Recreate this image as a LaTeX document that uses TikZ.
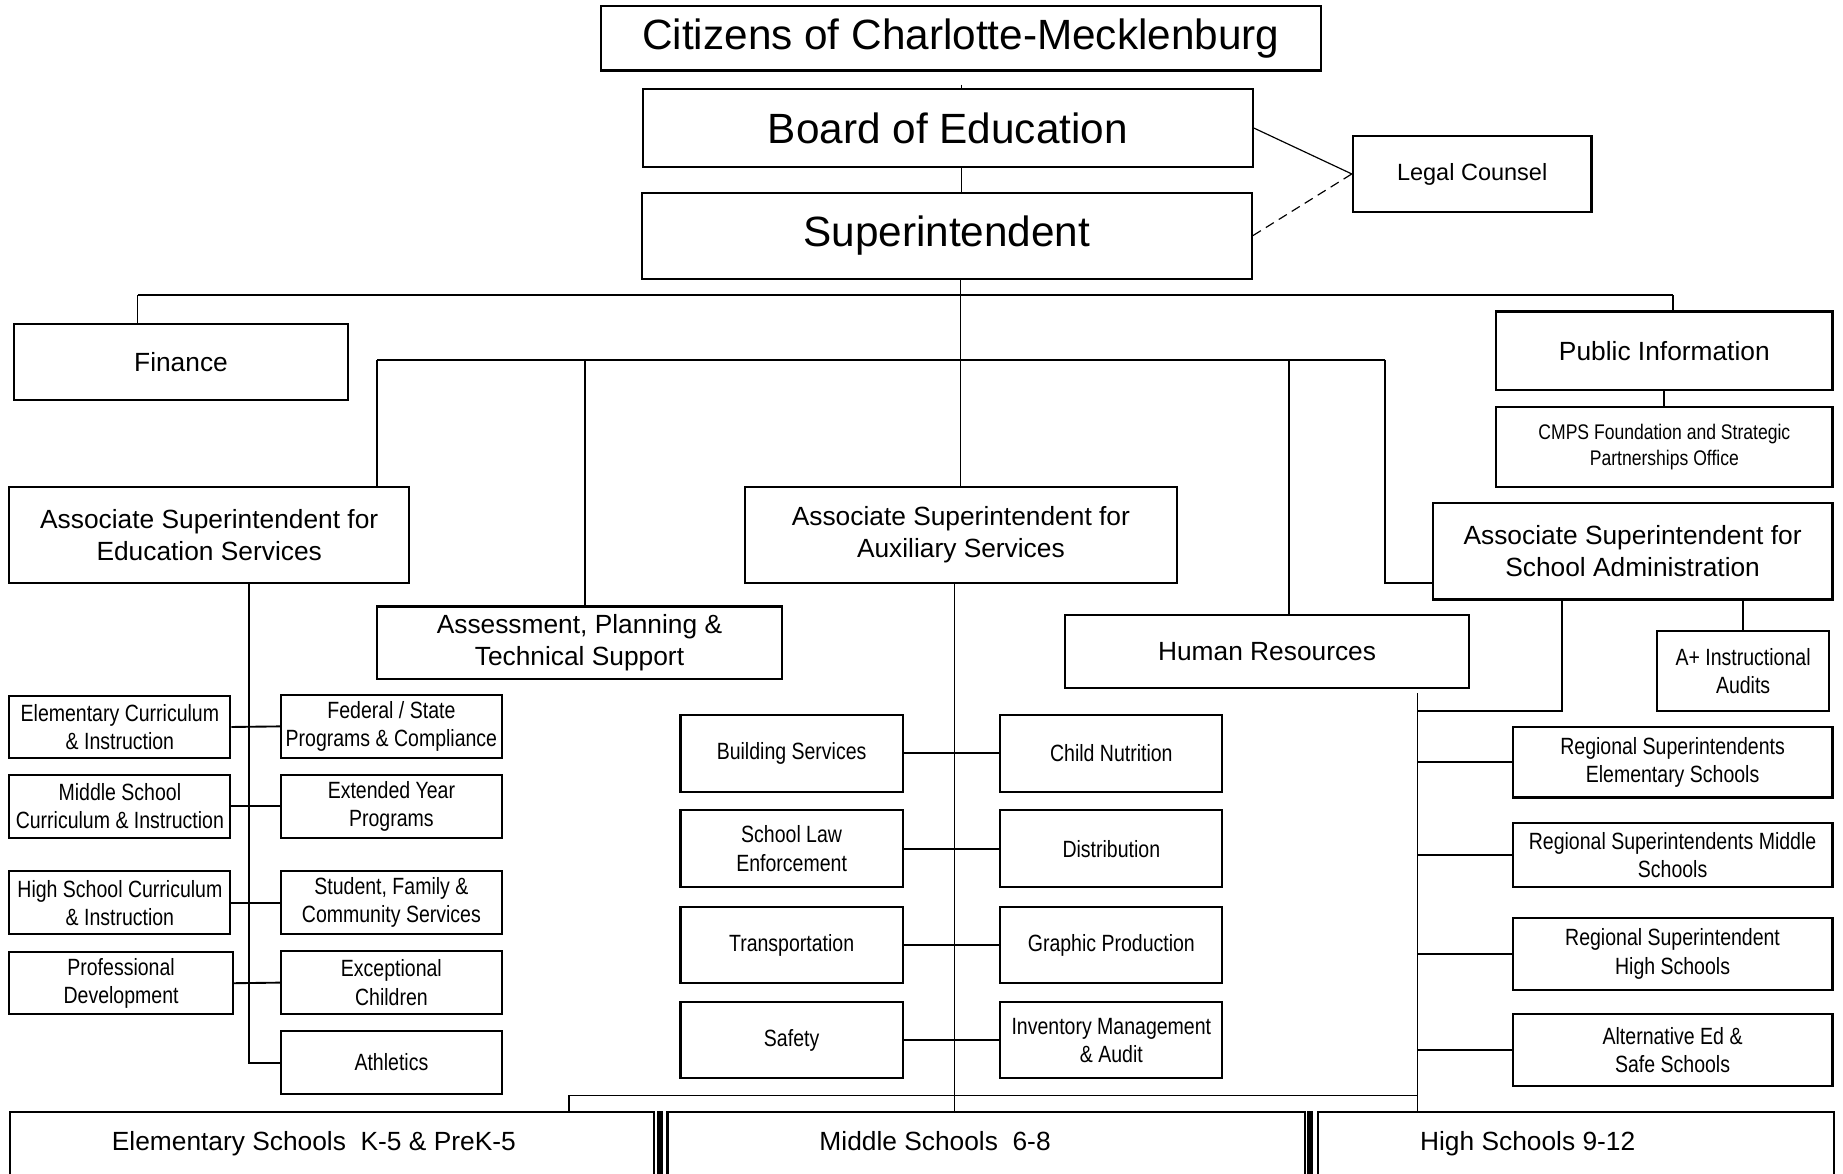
\documentclass[tikz,border=0pt]{standalone}
\usepackage{fontspec}
\setmainfont{Liberation Sans}
\newfontfamily\narrowfont[FakeStretch=0.83]{Liberation Sans}
\begin{document}
\begin{tikzpicture}[x=1pt,y=-1pt,
  bx/.style={draw, line width=1.8pt, inner sep=0pt, align=center},
  big/.style={font=\fontsize{36}{43}\selectfont},
  mid/.style={font=\fontsize{22.4}{27}\selectfont},
  nar/.style={font=\narrowfont\fontsize{20}{24}\selectfont},
  ln/.style={line width=1.6pt},
  thinln/.style={line width=1pt},
  sepbar/.style={fill=black, draw=none}]
\useasboundingbox (0,0) rectangle (1568,998);
\clip (0,0) rectangle (1568,998);
% top
\node[bx,big,minimum width=613pt,minimum height=55pt] (cit) at (817.5,32.5) {Citizens of Charlotte-Mecklenburg};
\node[bx,big,minimum width=519pt,minimum height=66pt] (board) at (806.5,109) {Board of Education};
\node[bx,big,minimum width=519pt,minimum height=73pt] (sup) at (805.5,200.5) {Superintendent};
\node[bx,font=\fontsize{20}{24}\selectfont,minimum width=203pt,minimum height=64pt] (legal) at (1252.5,148) {Legal Counsel};
% second tier
\node[bx,mid,minimum width=284pt,minimum height=64pt] (fin) at (154,308) {Finance};
\node[bx,mid,minimum width=286pt,minimum height=67pt] (pub) at (1416,298.5) {Public Information};
\node[bx,font=\narrowfont\fontsize{18}{22}\selectfont,minimum width=286pt,minimum height=68pt] (cmps) at (1416,380) {CMPS Foundation and Strategic\\Partnerships Office};
\node[bx,mid,minimum width=340pt,minimum height=82pt] (edu) at (178,455) {Associate Superintendent for\\Education Services};
\node[bx,mid,minimum width=367pt,minimum height=82pt] (aux) at (817.5,455) {Associate Superintendent for\\Auxiliary Services};
\node[bx,mid,minimum width=340pt,minimum height=82pt] (sadm) at (1389,469) {Associate Superintendent for\\School Administration};
\node[bx,mid,minimum width=344pt,minimum height=62pt] (assess) at (493,547) {Assessment, Planning \&\\Technical Support};
\node[bx,mid,minimum width=344pt,minimum height=62pt] (hr) at (1078,554) {Human Resources};
\node[bx,nar,minimum width=146pt,minimum height=68pt] (aplus) at (1483,571) {A+ Instructional\\Audits};
% education column
\node[bx,nar,minimum width=188pt,minimum height=53pt] (elem) at (102,618.5) {Elementary Curriculum\\\& Instruction};
\node[bx,nar,minimum width=188pt,minimum height=54pt] (msci) at (102,686) {Middle School\\Curriculum \& Instruction};
\node[bx,nar,minimum width=188pt,minimum height=54pt] (hsci) at (102,768) {High School Curriculum\\\& Instruction};
\node[bx,nar,minimum width=190pt,minimum height=53pt] (prof) at (103,836.5) {Professional\\Development};
\node[bx,nar,minimum width=188pt,minimum height=54pt] (fed) at (333,618) {Federal / State\\Programs \& Compliance};
\node[bx,nar,minimum width=188pt,minimum height=54pt] (ext) at (333,686) {Extended Year\\Programs};
\node[bx,nar,minimum width=188pt,minimum height=54pt] (stud) at (333,768) {Student, Family \&\\Community Services};
\node[bx,nar,minimum width=188pt,minimum height=54pt] (exc) at (333,836) {Exceptional\\Children};
\node[bx,nar,minimum width=188pt,minimum height=54pt] (ath) at (333,904) {Athletics};
% auxiliary column
\node[bx,nar,minimum width=189pt,minimum height=66pt] (bld) at (673.5,641) {Building Services};
\node[bx,nar,minimum width=189pt,minimum height=65pt] (law) at (673.5,722) {School Law\\Enforcement};
\node[bx,nar,minimum width=189pt,minimum height=65pt] (trans) at (673.5,804) {Transportation};
\node[bx,nar,minimum width=189pt,minimum height=65pt] (safe) at (673.5,885) {Safety};
\node[bx,nar,minimum width=189pt,minimum height=66pt] (cn) at (945.5,641) {Child Nutrition};
\node[bx,nar,minimum width=189pt,minimum height=65pt] (dist) at (945.5,722) {Distribution};
\node[bx,nar,minimum width=189pt,minimum height=65pt] (gp) at (945.5,804) {Graphic Production};
\node[bx,nar,minimum width=189pt,minimum height=65pt] (inv) at (945.5,885) {Inventory Management\\\& Audit};
% regional column
\node[bx,nar,minimum width=272pt,minimum height=60pt] (rse) at (1423,648.5) {Regional Superintendents\\Elementary Schools};
\node[bx,nar,minimum width=272pt,minimum height=55pt] (rsm) at (1423,727.5) {Regional Superintendents Middle\\Schools};
\node[bx,nar,minimum width=272pt,minimum height=61pt] (rsh) at (1423,811.5) {Regional Superintendent\\High Schools};
\node[bx,nar,minimum width=272pt,minimum height=61pt] (alt) at (1423,893.5) {Alternative Ed \&\\Safe Schools};
% schools
\node[bx,anchor=north west,minimum width=548pt,minimum height=80pt] (es) at (7.5,945) {};
\node[bx,anchor=north west,minimum width=542pt,minimum height=80pt] (ms) at (567,945) {};
\node[bx,anchor=north west,minimum width=439pt,minimum height=80pt] (hs) at (1120.5,945) {};
\fill[sepbar] (559,945) rectangle (564,1000);
\fill[sepbar] (1112,945) rectangle (1117,1000);
\node[mid,anchor=base west,inner sep=0pt] (est) at (95,979) {Elementary Schools\ \ K-5 \& PreK-5};
\node[mid,anchor=base west,inner sep=0pt] (mst) at (697,979) {Middle Schools\ \ 6-8};
\node[mid,anchor=base west,inner sep=0pt] (hst) at (1208,979) {High Schools 9-12};
% coordinates
\coordinate (stub) at (818,72);
\coordinate (h1L) at (117,251);
\coordinate (h1R) at (1423,251);
\coordinate (h2L) at (321,306);
\coordinate (h2A) at (498,306);
\coordinate (h2H) at (1097,306);
\coordinate (h2R) at (1178,306);
\coordinate (ev) at (212,496);
\coordinate (av) at (812,496);
\coordinate (sv) at (1329,510);
\coordinate (rv1) at (1206,590);
\coordinate (rv2) at (1206,945);
\coordinate (bl) at (484,932);
% connectors
\draw[thinln] (stub) -- (stub |- board.north);
\draw[thinln] (board.south -| stub) -- (sup.north -| stub);
\draw[thinln] (board.east) -- (legal.west);
\draw[thinln,dash pattern=on 8pt off 5pt] (sup.east) -- (legal.west);
\draw[ln] (h1L) -- (h1R);
\draw[ln] (h1L) -- (h1L |- fin.north);
\draw[ln] (h1R) -- (h1R |- pub.north);
\draw[ln] (pub.south) -- (cmps.north);
\draw[thinln] (sup.south -| aux.north) -- (aux.north);
\draw[ln] (h2L) -- (h2R);
\draw[ln] (h2L) -- (h2L |- edu.north);
\draw[ln] (h2A) -- (h2A |- assess.north);
\draw[ln] (h2H) -- (h2H |- hr.north);
\draw[ln] (h2R) |- ([yshift=-27pt]sadm.west);
\draw[ln] (aplus.north |- sadm.south) -- (aplus.north);
\draw[ln] (ev) |- (ath.west);
\draw[ln] (elem.east) -- (fed.west);
\draw[ln] (msci.east) -- (ext.west);
\draw[ln] (hsci.east) -- (stud.west);
\draw[ln] (prof.east) -- (exc.west);
\draw[thinln] (av) -- (av |- ms.north);
\draw[ln] (bld.east) -- (cn.west);
\draw[ln] (law.east) -- (dist.west);
\draw[ln] (trans.east) -- (gp.west);
\draw[ln] (safe.east) -- (inv.west);
\draw[ln] (sv) |- (rv1 |- 0,605);
\draw[thinln] (rv1) -- (rv2);
\draw[ln] (rse.west -| rv1) -- (rse.west);
\draw[ln] (rsm.west -| rv1) -- (rsm.west);
\draw[ln] (rsh.west -| rv1) -- (rsh.west);
\draw[ln] (alt.west -| rv1) -- (alt.west);
\draw[ln] (bl) -- (bl -| rv1);
\draw[ln] (bl) -- (bl |- es.north);
\end{tikzpicture}
\end{document}
